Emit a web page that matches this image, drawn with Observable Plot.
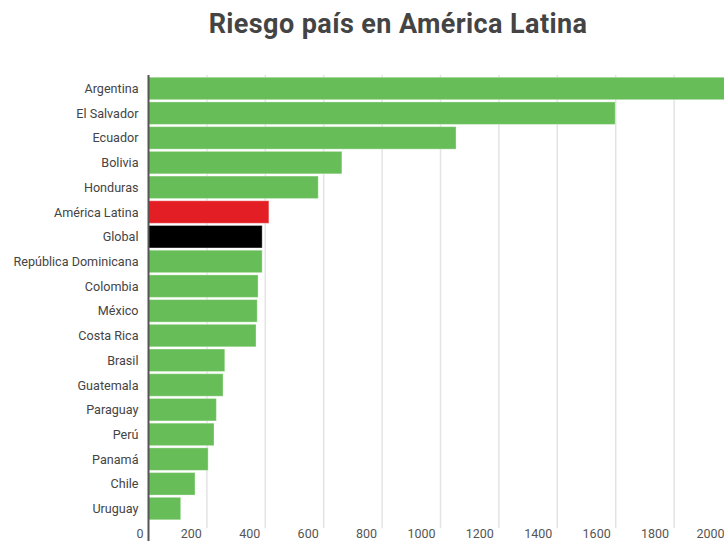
<!DOCTYPE html>
<html>
<head>
<meta charset="utf-8">
<script src="https://cdn.jsdelivr.net/npm/d3@7"></script>
<script src="https://cdn.jsdelivr.net/npm/@observablehq/plot@0.6"></script>
<style>
  html, body { margin: 0; padding: 0; background: #fff; overflow: hidden; width: 724px; height: 541px; }
  #title { width: 796px; height: 50px; text-align: center; font-family: Roboto, sans-serif; font-weight: 700;
           font-size: 27px; letter-spacing: 0.4px; color: #444; line-height: 30px; padding-top: 9px;
           box-sizing: border-box; white-space: nowrap; }
  #chart { width: 760px; }
  #chart svg { display: block; max-width: none !important; width: 760px; height: 491px; }
</style>
</head>
<body>
<div id="title">Riesgo país en América Latina</div>
<div id="chart"></div>
<script>
const categories = ["Argentina", "El Salvador", "Ecuador", "Bolivia", "Honduras", "América Latina", "Global",
  "República Dominicana", "Colombia", "México", "Costa Rica", "Brasil", "Guatemala", "Paraguay", "Perú",
  "Panamá", "Chile", "Uruguay"];
const values = [2050, 1600, 1055, 664, 583, 414, 391, 391, 377, 374, 370, 263, 257, 234, 226, 206, 161, 112];
const barColors = ["#67bd57", "#67bd57", "#67bd57", "#67bd57", "#67bd57", "#e31e24", "#000000",
  "#67bd57", "#67bd57", "#67bd57", "#67bd57", "#67bd57", "#67bd57", "#67bd57", "#67bd57",
  "#67bd57", "#67bd57", "#67bd57"];
const xTicks = [0, 200, 400, 600, 800, 1000, 1200, 1400, 1600, 1800, 2000];

const data = categories.map((name, i) => ({name, value: values[i], color: barColors[i]}));
const tickLabel = {text: d => String(d), frameAnchor: "bottom", lineAnchor: "top",
  dy: 7, textAnchor: "end", fontSize: 12.5, fill: "#555"};

const chart = Plot.plot({
  width: 760,
  height: 491,
  marginTop: 25,
  marginBottom: 19,
  marginLeft: 148,
  marginRight: 28,
  style: {fontFamily: "Roboto, sans-serif", background: "#fff", overflow: "visible", maxWidth: "none"},
  x: {domain: [0, 2000], axis: null},
  y: {domain: categories, padding: 0.09, round: false, axis: null},
  color: {type: "identity"},
  marks: [
    Plot.ruleX(xTicks.slice(1), {x: d => d, stroke: "#e3e3e3", strokeWidth: 1.5, insetBottom: -6}),
    Plot.barX(data, {x: "value", y: "name", fill: "color", stroke: "#ffffff", strokeOpacity: 0.35, strokeWidth: 1}),
    Plot.ruleX([0], {x: d => d, stroke: "#555", strokeWidth: 2, insetBottom: -25}),
    Plot.text(categories, {y: d => d, frameAnchor: "left", dx: -10, textAnchor: "end",
      fontSize: 12.6, fill: "#444"}),
    Plot.text(xTicks.slice(0, -1), {x: d => d, dx: -5, ...tickLabel}),
    Plot.text(xTicks.slice(-1), {x: d => d, dx: -8, ...tickLabel})
  ]
});
document.getElementById("chart").appendChild(chart);
</script>
</body>
</html>
